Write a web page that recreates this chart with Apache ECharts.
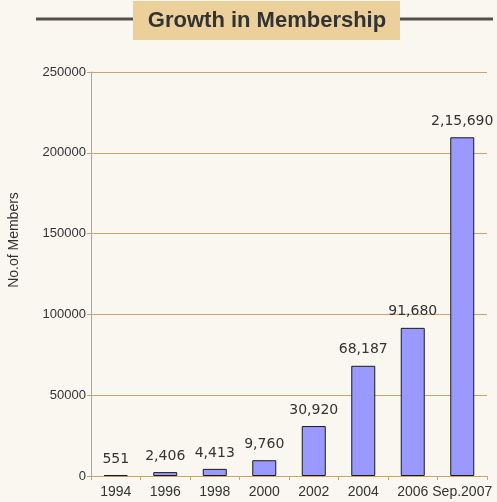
<!DOCTYPE html>
<html>
<head>
<meta charset="utf-8">
<script src="https://cdn.jsdelivr.net/npm/echarts@6/dist/echarts.min.js"></script>
<style>
  html, body { margin: 0; padding: 0; background: #faf7f1; }
  #chart { width: 497px; height: 502px; }
</style>
</head>
<body>
<div id="chart"></div>
<script>
// categories and values
const years = ["1994", "1996", "1998", "2000", "2002", "2004", "2006", "Sep.2007"];
const members = [551, 2406, 4413, 9760, 30920, 68187, 91680, 209600];
const memberLabels = ["551", "2,406", "4,413", "9,760", "30,920", "68,187", "91,680", "2,15,690"];

const tan = "#c9a566";
const chart = echarts.init(document.getElementById("chart"));

chart.setOption({
  backgroundColor: "#faf7f1",
  animation: false,
  grid: { left: 91, right: 10, top: 72, bottom: 26 },
  graphic: [
    // title bar with rule
    { type: "line", shape: { x1: 36, y1: 19, x2: 493, y2: 19 }, style: { stroke: "#545049", lineWidth: 3 } },
    { type: "rect", shape: { x: 133, y: 1, width: 267, height: 39 }, style: { fill: "#ecd09b" } },
    {
      type: "text", x: 267, y: 21,
      style: { text: "Growth in Membership", fill: "#333", font: "bold 22px 'Liberation Sans', Arial", align: "center", verticalAlign: "middle" }
    },
    // y axis name
    {
      type: "text", x: 14, y: 240, rotation: Math.PI / 2,
      style: { text: "No.of Members", fill: "#333", font: "14px 'Liberation Sans', Arial", align: "center", verticalAlign: "middle" }
    }
  ],
  xAxis: {
    type: "category",
    data: years,
    axisLine: { lineStyle: { color: tan, width: 1 } },
    axisTick: { show: true, length: 4, lineStyle: { color: tan } },
    axisLabel: { color: "#333", fontSize: 14, fontFamily: "'Liberation Sans', Arial", margin: 9, interval: 0 }
  },
  yAxis: {
    type: "value",
    min: 0, max: 250000, interval: 50000,
    axisLine: { show: true, lineStyle: { color: tan, width: 1 } },
    axisTick: { show: true, length: 4, lineStyle: { color: tan } },
    splitLine: { lineStyle: { color: tan, width: 1 } },
    axisLabel: { color: "#333", fontSize: 13, fontFamily: "'Liberation Sans', Arial", margin: 5, formatter: v => String(v) }
  },
  series: [{
    type: "bar",
    data: members,
    barWidth: 24,
    itemStyle: { color: "#9999ff", borderColor: "#1a1a1a", borderWidth: 1 },
    label: {
      show: true, position: "top", distance: 9,
      color: "#333", fontSize: 14, fontFamily: "'DejaVu Sans', Verdana",
      formatter: p => memberLabels[p.dataIndex]
    }
  }]
});
</script>
</body>
</html>
